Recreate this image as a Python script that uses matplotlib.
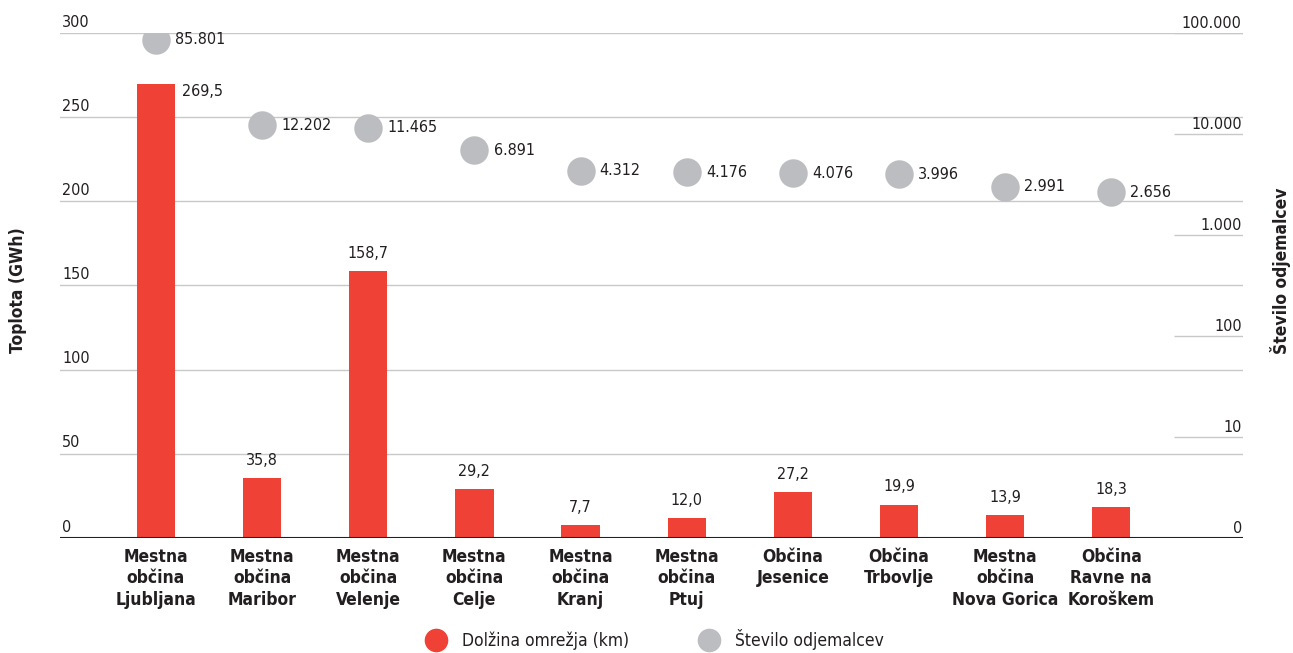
import matplotlib
matplotlib.use('Agg')
import matplotlib.pyplot as plt
from matplotlib.lines import Line2D
from matplotlib import font_manager

# font: narrow face if we have one
names = {f.name for f in font_manager.fontManager.ttflist}
if 'Liberation Sans Narrow' in names:
    plt.rcParams['font.family'] = ['Liberation Sans Narrow', 'DejaVu Sans']
else:
    plt.rcParams['font.family'] = ['DejaVu Sans']
    plt.rcParams['font.stretch'] = 'condensed'

# Data
obcine = ['Mestna\nobčina\nLjubljana', 'Mestna\nobčina\nMaribor', 'Mestna\nobčina\nVelenje',
          'Mestna\nobčina\nCelje', 'Mestna\nobčina\nKranj', 'Mestna\nobčina\nPtuj',
          'Občina\nJesenice', 'Občina\nTrbovlje', 'Mestna\nobčina\nNova Gorica',
          'Občina\nRavne na\nKoroškem']
toplota = [269.5, 35.8, 158.7, 29.2, 7.7, 12.0, 27.2, 19.9, 13.9, 18.3]
odjemalci = [85801, 12202, 11465, 6891, 4312, 4176, 4076, 3996, 2991, 2656]
left_ticks = [0, 50, 100, 150, 200, 250, 300]
right_ticks = [1, 10, 100, 1000, 10000, 100000]
right_labels = ['0', '10', '100', '1.000', '10.000', '100.000']

red = '#ef4136'
grey = '#bcbdc0'
dark = '#231f20'
gridc = '#c8c8c8'

def fmt_dec(v):
    return f'{v:.1f}'.replace('.', ',')

def fmt_int(v):
    return f'{v:,}'.replace(',', '.')

fig = plt.figure(figsize=(12.93, 6.53), dpi=100)
ax = fig.add_axes([0.0464, 0.1761, 0.9149, 0.7734])
ax2 = ax.twinx()

x = list(range(len(obcine)))
ax.bar(x, toplota, width=0.36, color=red, zorder=3)
ax.set_xlim(-0.904, 10.24)
ax.set_ylim(0, 300)

# left gridlines and labels (labels sit above the line)
for t in left_ticks[1:]:
    ax.axhline(t, color=gridc, lw=1, zorder=1)
for t in left_ticks:
    ax.text(0.002, t + 2, str(t), transform=ax.get_yaxis_transform(),
            ha='left', va='bottom', fontsize=11.5, color=dark)
ax.axhline(0, color=dark, lw=1.5, zorder=4)

# bar values
for i, v in enumerate(toplota):
    if i == 0:
        ax.text(i + 0.25, v - 4, fmt_dec(v), ha='left', va='center', fontsize=11.5, color=dark)
    else:
        ax.text(i, v + 6, fmt_dec(v), ha='center', va='bottom', fontsize=11.5, color=dark)

# right log axis
ax2.set_yscale('log')
ax2.set_ylim(1, 100000)
ax2.hlines(right_ticks[1:], 0.942, 1.0, transform=ax2.get_yaxis_transform(),
           color=gridc, lw=1, zorder=1)
for t, lab in zip(right_ticks, right_labels):
    ax2.text(0.999, t * 1.05, lab, transform=ax2.get_yaxis_transform(),
             ha='right', va='bottom', fontsize=11.5, color=dark)
ax2.scatter(x, odjemalci, s=420, color=grey, zorder=5, linewidths=0)
for i, v in enumerate(odjemalci):
    ax2.text(i + 0.18, v, fmt_int(v), ha='left', va='center', fontsize=11.5, color=dark)

for a in (ax, ax2):
    for s in a.spines.values():
        s.set_visible(False)
    a.set_yticks([])
ax2.minorticks_off()
ax2.set_yticks([])

ax.set_xticks(x)
ax.set_xticklabels(obcine, fontsize=12.5, fontweight='bold', color=dark, linespacing=1.25)
ax.tick_params(axis='x', length=0, pad=7)

fig.text(0.014, 0.555, 'Toplota (GWh)', rotation=90, ha='center', va='center',
         fontsize=12.5, fontweight='bold', color=dark)
fig.text(0.99, 0.585, 'Število odjemalcev', rotation=90, ha='center', va='center',
         fontsize=12.5, fontweight='bold', color=dark)

handles = [Line2D([], [], marker='o', ls='', color=red, markersize=16),
           Line2D([], [], marker='o', ls='', color=grey, markersize=16)]
fig.legend(handles, ['Dolžina omrežja (km)', 'Število odjemalcev'], loc='center',
           bbox_to_anchor=(0.504, 0.02), ncol=2, frameon=False, fontsize=12.5,
           columnspacing=3.6, handletextpad=0.5, labelcolor=dark)

fig.savefig('out.png', dpi=100)
